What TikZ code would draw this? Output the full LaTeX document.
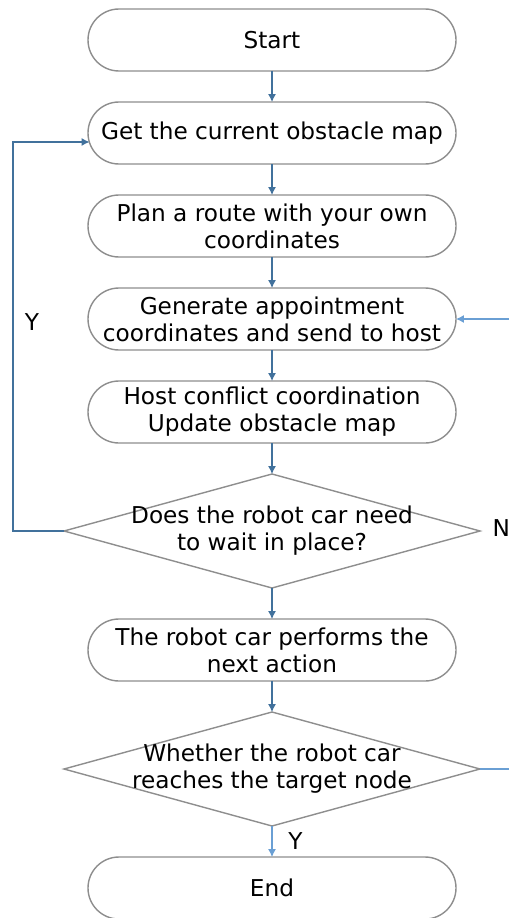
\documentclass[tikz,border=0pt]{standalone}
\usepackage{fontspec}
\setmainfont{DejaVu Sans}
\usetikzlibrary{arrows.meta,positioning,calc,shapes.geometric}
\definecolor{edgegray}{HTML}{8E8E8E}
\definecolor{linkblue}{HTML}{41719C}
\definecolor{lightblue}{HTML}{6A9FD4}

\begin{document}
\begin{tikzpicture}[>={Latex[length=4.5pt,width=4.5pt]},
 b/.style={draw=edgegray, line width=0.8pt, rounded corners=0.62cm, minimum width=7.36cm, minimum height=1.24cm, inner sep=0pt, outer sep=0pt, align=center, font=\fontsize{13.2}{15.4}\selectfont},
 d/.style={draw=edgegray, line width=0.8pt, diamond, minimum width=8.32cm, minimum height=2.28cm, inner sep=0pt, outer sep=0pt},
 t/.style={align=center, font=\fontsize{13.2}{15.4}\selectfont},
 l/.style={->, linkblue, line width=0.6pt},
 l2/.style={lightblue, line width=0.6pt}]
\useasboundingbox (0,0) rectangle (10.16,-18.36);
\node[b] (start) at (5.44,-0.8) {Start};
\node[b, below=0.62cm of start] (get) {Get the current obstacle map};
\node[b, below=0.62cm of get] (plan) {Plan a route with your own\\coordinates};
\node[b, below=0.62cm of plan] (gen) {Generate appointment\\coordinates and send to host};
\node[b, below=0.62cm of gen] (host) {Host conflict coordination\\Update obstacle map};
\node[d, below=0.62cm of host] (wait) {};
\node[t] (waittxt) at (wait) {Does the robot car need\\to wait in place?};
\node[b, below=0.62cm of wait] (act) {The robot car performs the\\next action};
\node[d, below=0.62cm of act] (reach) {};
\node[t] (reachtxt) at (reach) {Whether the robot car\\reaches the target node};
\node[b, below=0.62cm of reach] (end) {End};
\draw[l] (start) -- (get);
\draw[l] (get) -- (plan);
\draw[l] (plan) -- (gen);
\draw[l] (gen) -- (host);
\draw[l] (host) -- (wait);
\draw[l] (wait) -- (act);
\draw[l] (act) -- (reach);
\draw[l2, ->] (reach) -- (end) node[midway, right=0.2cm, black, t] (ybot) {Y};
% loop back when waiting
\coordinate (loopx) at ($(wait.west)+(-1.02,0)$);
\coordinate (gin) at ($(get.west)+(0.03,-0.18)$);
\draw[l] (wait.west) -- (loopx) |- (gin);
\node[t] (yleft) at (0.64,-6.44) {Y};
\node[t, right=0.13cm of wait.east, yshift=0.05cm] (nlab) {N};
% lines leaving the picture on the right
\coordinate (rin) at ($(gen.east)+(1.2,0)$);
\draw[l2, ->] (rin) -- (gen.east);
\coordinate (rout) at ($(reach.east)+(1.0,0)$);
\draw[l2] (reach.east) -- (rout);
\end{tikzpicture}
\end{document}
